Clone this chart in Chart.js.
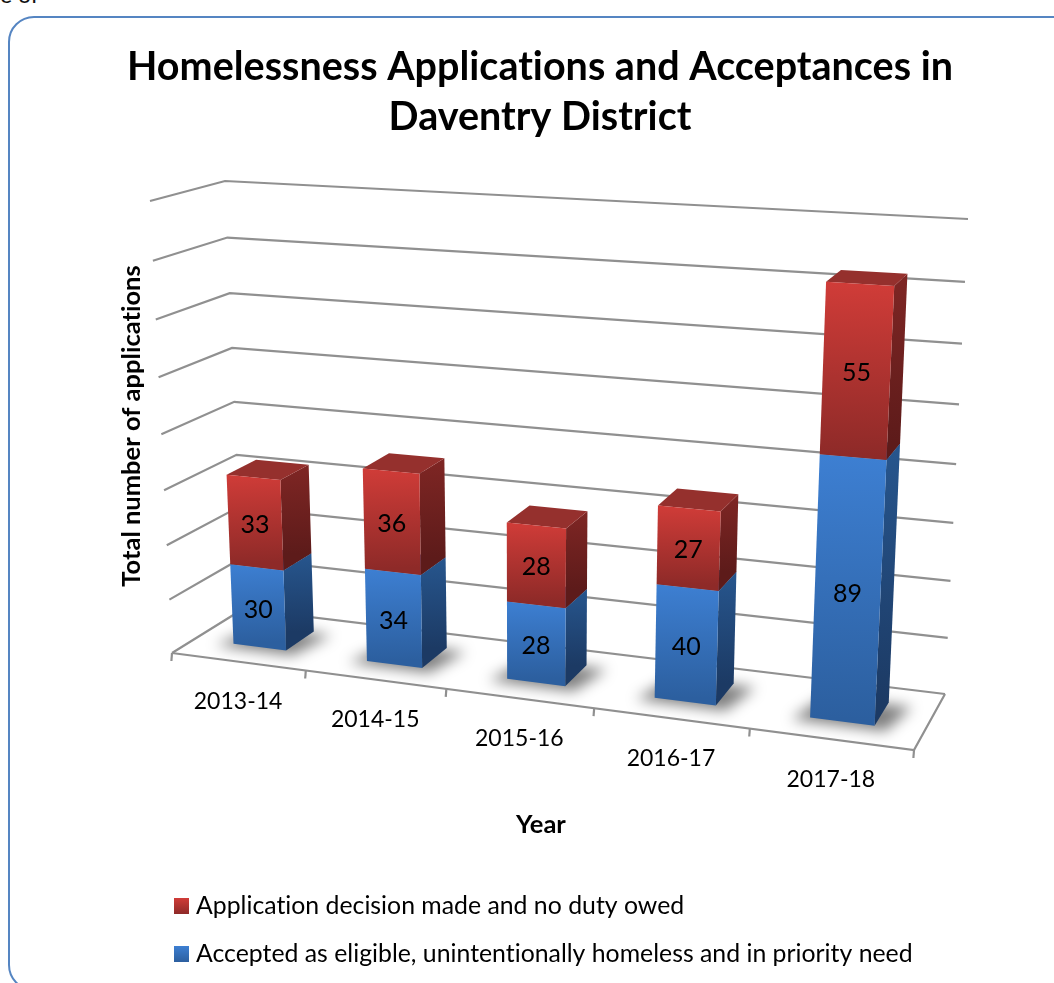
<!DOCTYPE html>
<html>
<head>
<meta charset="utf-8">
<title>Homelessness Applications and Acceptances</title>
<style>
    html, body { margin: 0; padding: 0; width: 1054px; height: 983px; overflow: hidden; background: #fff; }
    #caption { position: absolute; left: 0; top: -20px; font: 23px Lato, sans-serif; color: #111; white-space: nowrap; }
    #card { position: absolute; left: 8px; top: 16px; width: 1100px; height: 975px; border: 2px solid #5585c2; border-radius: 26px; box-sizing: border-box; }
    #wrap { position: absolute; left: 0; top: 0; width: 1054px; height: 983px; }
</style>
</head>
<body>
<div id="caption">e of</div>
<div id="card"></div>
<div id="wrap"><canvas id="chart" width="1054" height="983"></canvas></div>
<script src="https://cdn.jsdelivr.net/npm/chart.js@4/dist/chart.umd.min.js"></script>
<script>
// === Data ===
const years = ['2013-14', '2014-15', '2015-16', '2016-17', '2017-18'];
const accepted = [30, 34, 28, 40, 89];
const noDuty = [33, 36, 28, 27, 55];
const acceptedLabel = 'Accepted as eligible, unintentionally homeless and in priority need';
const noDutyLabel = 'Application decision made and no duty owed';

const FONT = 'Lato, Carlito, sans-serif';

// Box corners on screen: [front-left, front-right, back-left, back-right]
const FLOOR = [[172, 653], [914, 750], [243, 609], [945, 694]];
const CEILING = [[150, 201], [940, 245], [225, 181], [968, 219]];
const BAR_FRONT = 0.32;
const BAR_BACK = 0.74;

const BLUE = { front: ['#3d7fd2', '#2c5f9f'], side: ['#27568e', '#1c3a64'], top: '#2d5f9b' };
const RED = { front: ['#d03c38', '#8e2a28'], side: ['#7f2624', '#5d1b1a'], top: '#95302d' };

// Foreshortening along an axis
function persp(a, p) {
    return a * p / (1 + a * (p - 1));
}

function lerp(a, b, t) {
    return a + (b - a) * t;
}

// u across, v up, w into the depth, all 0..1
function project(u, v, w) {
    const s = persp(u, 0.88);
    const t = persp(v, 0.938);
    const at = (i) => {
        const bottom = lerp(lerp(FLOOR[0][i], FLOOR[1][i], s), lerp(FLOOR[2][i], FLOOR[3][i], s), w);
        const top = lerp(lerp(CEILING[0][i], CEILING[1][i], s), lerp(CEILING[2][i], CEILING[3][i], s), w);
        return lerp(bottom, top, t);
    };
    return [at(0), at(1)];
}

function poly(ctx, pts) {
    ctx.beginPath();
    pts.forEach((p, i) => (i ? ctx.lineTo(p[0], p[1]) : ctx.moveTo(p[0], p[1])));
    ctx.closePath();
}

function vertical(ctx, a, b, colors) {
    const g = ctx.createLinearGradient(a[0], a[1], b[0], b[1]);
    g.addColorStop(0, colors[0]);
    g.addColorStop(1, colors[1]);
    return g;
}

function text(ctx, str, x, y, font, align) {
    ctx.font = font;
    ctx.fillStyle = '#000';
    ctx.textAlign = align || 'center';
    ctx.textBaseline = 'middle';
    ctx.fillText(str, x, y);
}

// === Walls and floor ===
function drawGrid(chart, ctx) {
    const yScale = chart.scales.y;
    const toV = (value) => (yScale.bottom - yScale.getPixelForValue(value)) / yScale.height;

    ctx.strokeStyle = '#909090';
    ctx.lineWidth = 2.2;
    ctx.lineJoin = 'miter';

    yScale.ticks.forEach((tick) => {
        const v = toV(tick.value);
        ctx.beginPath();
        [project(0, v, 0), project(0, v, 1), project(1, v, 1)].forEach((p, i) => {
            i ? ctx.lineTo(p[0], p[1]) : ctx.moveTo(p[0], p[1]);
        });
        ctx.stroke();
    });

    // Floor front and right edges
    ctx.beginPath();
    [project(0, 0, 0), project(1, 0, 0), project(1, 0, 1)].forEach((p, i) => {
        i ? ctx.lineTo(p[0], p[1]) : ctx.moveTo(p[0], p[1]);
    });
    ctx.stroke();

    // Category ticks
    for (let i = 0; i <= years.length; i++) {
        const p = project(i / years.length, 0, 0);
        ctx.beginPath();
        ctx.moveTo(p[0], p[1]);
        ctx.lineTo(p[0] - 0.6, p[1] + 8);
        ctx.stroke();
    }
}

// === Bars ===
function drawShadows(chart, ctx) {
    const area = chart.chartArea;
    const bars = chart.getDatasetMeta(0).data;
    ctx.save();
    ctx.filter = 'blur(7px)';
    ctx.fillStyle = 'rgba(0,0,0,0.5)';
    bars.forEach((bar) => {
        const u0 = (bar.x - bar.width / 2 - area.left) / area.width;
        const u1 = (bar.x + bar.width / 2 - area.left) / area.width;
        poly(ctx, [
            project(u0 - 0.02, 0, BAR_FRONT - 0.07),
            project(u1 + 0.016, 0, BAR_FRONT - 0.07),
            project(u1 + 0.03, 0, BAR_BACK - 0.03),
            project(u0, 0, BAR_BACK - 0.03)
        ]);
        ctx.fill();
    });
    ctx.restore();
}

function drawBox(chart, ctx, bar, look) {
    const area = chart.chartArea;
    const yScale = chart.scales.y;
    const u0 = (bar.x - bar.width / 2 - area.left) / area.width;
    const u1 = (bar.x + bar.width / 2 - area.left) / area.width;
    const v0 = (yScale.bottom - bar.base) / yScale.height;
    const v1 = (yScale.bottom - bar.y) / yScale.height;

    const fl0 = project(u0, v0, BAR_FRONT), fr0 = project(u1, v0, BAR_FRONT);
    const fl1 = project(u0, v1, BAR_FRONT), fr1 = project(u1, v1, BAR_FRONT);
    const br0 = project(u1, v0, BAR_BACK), br1 = project(u1, v1, BAR_BACK);
    const bl1 = project(u0, v1, BAR_BACK);

    poly(ctx, [fr0, fr1, br1, br0]);
    ctx.fillStyle = vertical(ctx, br1, br0, look.side);
    ctx.fill();

    poly(ctx, [fl1, fr1, br1, bl1]);
    ctx.fillStyle = look.top;
    ctx.fill();

    poly(ctx, [fl0, fr0, fr1, fl1]);
    ctx.fillStyle = vertical(ctx, fl1, fl0, look.front);
    ctx.fill();

    return project((u0 + u1) / 2, (v0 + v1) / 2, BAR_FRONT);
}

function drawBars(chart, ctx) {
    const lower = chart.getDatasetMeta(0).data;
    const upper = chart.getDatasetMeta(1).data;
    years.forEach((year, i) => {
        const a = drawBox(chart, ctx, lower[i], BLUE);
        const b = drawBox(chart, ctx, upper[i], RED);
        text(ctx, String(accepted[i]), a[0], a[1] + 2, '25px ' + FONT);
        text(ctx, String(noDuty[i]), b[0], b[1] + 2, '25px ' + FONT);
    });
}

// === Axis text and legend ===
function drawLabels(chart, ctx) {
    years.forEach((year, i) => {
        const p = project((i + 0.5) / years.length, 0, 0);
        text(ctx, year, p[0], p[1] + 40, '23px ' + FONT);
    });

    text(ctx, 'Year', 541, 825, 'bold 25.5px ' + FONT);

    ctx.save();
    ctx.translate(132, 426);
    ctx.rotate(-Math.PI / 2);
    text(ctx, 'Total number of applications', 0, 0, 'bold 25.5px ' + FONT);
    ctx.restore();

    const entries = [
        { label: noDutyLabel, look: RED, top: 898 },
        { label: acceptedLabel, look: BLUE, top: 946 }
    ];
    entries.forEach((entry) => {
        ctx.fillStyle = vertical(ctx, [0, entry.top], [0, entry.top + 16], entry.look.front);
        ctx.fillRect(174, entry.top, 15, 16);
        text(ctx, entry.label, 196, entry.top + 8, '24.8px ' + FONT, 'left');
    });
}

const chart3d = {
    id: 'chart3d',
    beforeDraw(chart) {
        // A tiny spacing keeps Lato from joining "ti" into a ligature
        chart.ctx.letterSpacing = '0.01px';
    },
    beforeDatasetsDraw(chart) {
        const ctx = chart.ctx;
        ctx.save();
        drawGrid(chart, ctx);
        drawShadows(chart, ctx);
        drawBars(chart, ctx);
        drawLabels(chart, ctx);
        ctx.restore();
        return false;
    }
};

new Chart(document.getElementById('chart'), {
    type: 'bar',
    data: {
        labels: years,
        datasets: [
            { label: acceptedLabel, data: accepted, backgroundColor: '#3d7fd2', categoryPercentage: 1, barPercentage: 0.4 },
            { label: noDutyLabel, data: noDuty, backgroundColor: '#d03c38', categoryPercentage: 1, barPercentage: 0.4 }
        ]
    },
    options: {
        responsive: false,
        animation: false,
        layout: { padding: { left: 26, top: 42, bottom: 100 } },
        plugins: {
            legend: { display: false },
            tooltip: { enabled: false },
            title: {
                display: true,
                text: ['Homelessness Applications and Acceptances in', 'Daventry District'],
                color: '#000',
                font: { family: FONT, size: 39.5, weight: 'bold', lineHeight: 1.27 },
                padding: 0
            }
        },
        scales: {
            x: { stacked: true, display: false },
            y: { stacked: true, display: false, min: 0, max: 160, ticks: { stepSize: 20 } }
        }
    },
    plugins: [chart3d]
});
</script>
</body>
</html>
